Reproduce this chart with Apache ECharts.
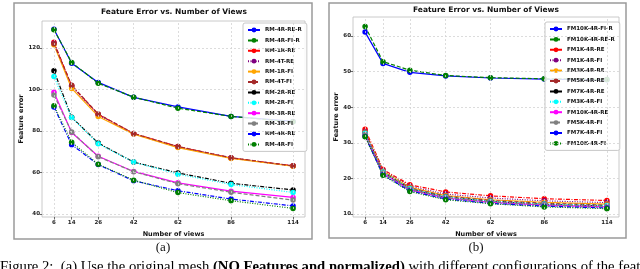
<!DOCTYPE html>
<html>
<head>
<meta charset="utf-8">
<script src="https://cdn.jsdelivr.net/npm/echarts@6/dist/echarts.min.js"></script>
<style>html,body{margin:0;padding:0;background:#fff;overflow:hidden;}#c{width:640px;height:269px;}</style>
</head>
<body>
<div id="c"></div>
<script>
// ---- data ----
const views = [6, 14, 26, 42, 62, 86, 114];
const yTicksA = [40, 60, 80, 100, 120];
const yTicksB = [10, 20, 30, 40, 50, 60];

const namesA = ['RM-4R-RE-R','RM-4R-FI-R','RM-1R-RE','RM-4T-RE','RM-1R-FI','RM-4T-FI','RM-2R-RE','RM-2R-FI','RM-3R-RE','RM-3R-FI','RM-4R-RE','RM-4R-FI'];
const rm4rReR = [129.0, 112.6, 103.4, 96.2, 91.6, 87.0, 84.6];
const rm4rFiR = [128.8, 113.0, 103.0, 96.3, 91.0, 87.0, 84.4];
const rm1rRe  = [122.8, 101.8, 88.0, 78.8, 72.5, 67.0, 63.2];
const rm4tRe  = [122.3, 101.5, 87.8, 78.6, 72.3, 67.0, 63.1];
const rm1rFi  = [121.5, 100.5, 87.0, 78.5, 72.0, 66.8, 63.0];
const rm4tFi  = [122.0, 102.0, 88.2, 78.8, 72.5, 67.1, 63.2];
const rm2rRe  = [109.0, 86.6, 74.2, 65.0, 59.8, 54.8, 51.6];
const rm2rFi  = [106.2, 86.5, 73.8, 65.0, 59.2, 54.2, 50.4];
const rm3rRe  = [98.7, 79.3, 67.8, 60.5, 55.0, 51.0, 48.0];
const rm3rFi  = [97.3, 79.5, 67.6, 60.4, 54.6, 50.5, 46.7];
const rm4rRe  = [91.6, 73.4, 63.8, 56.0, 51.2, 47.2, 43.9];
const rm4rFi  = [92.2, 74.6, 64.0, 56.3, 50.3, 46.4, 42.7];
const valuesA = [rm4rReR, rm4rFiR, rm1rRe, rm4tRe, rm1rFi, rm4tFi, rm2rRe, rm2rFi, rm3rRe, rm3rFi, rm4rRe, rm4rFi];

const namesB = ['FM10K-4R-FI-R','FM10K-4R-RE-R','FM1K-4R-RE','FM1K-4R-FI','FM3K-4R-RE','FM5K-4R-RE','FM7K-4R-RE','FM3K-4R-FI','FM10K-4R-RE','FM5K-4R-FI','FM7K-4R-FI','FM10K-4R-FI'];
const fm10kFiR = [61.1, 52.3, 49.8, 48.8, 48.2, 47.9, 47.7];
const fm10kReR = [62.7, 52.8, 50.4, 48.9, 48.3, 48.0, 47.8];
const fm1kRe   = [33.8, 22.5, 18.2, 16.2, 15.1, 14.3, 13.8];
const fm1kFi   = [33.2, 22.2, 17.8, 15.6, 14.5, 13.7, 13.2];
const fm3kRe   = [33.0, 22.0, 17.5, 15.2, 14.0, 13.3, 12.8];
const fm5kRe   = [32.8, 21.8, 17.3, 15.0, 13.8, 13.0, 12.5];
const fm7kRe   = [32.5, 21.6, 17.0, 14.7, 13.5, 12.7, 12.2];
const fm3kFi   = [32.7, 21.8, 17.2, 14.8, 13.6, 12.8, 12.4];
const fm10kRe  = [32.2, 21.4, 16.8, 14.5, 13.3, 12.5, 12.0];
const fm5kFi   = [32.3, 21.5, 16.9, 14.6, 13.4, 12.6, 12.1];
const fm7kFi   = [31.8, 21.0, 16.5, 14.2, 13.0, 12.2, 11.7];
const fm10kFi  = [31.7, 20.9, 16.3, 14.0, 12.9, 12.0, 11.5];
const valuesB = [fm10kFiR, fm10kReR, fm1kRe, fm1kFi, fm3kRe, fm5kRe, fm7kRe, fm3kFi, fm10kRe, fm5kFi, fm7kFi, fm10kFi];

// ---- styles ----
const colors = ['#0000ff','#008000','#ff0000','#800080','#ffa500','#a52a2a','#000000','#00ffff','#ff00ff','#808080','#0000ff','#008000'];
const dashes = ['solid', [4,2], [4,1.5,1,1.5], [1,1.5]];
const FONT = 'DejaVu Sans';

const chart = echarts.init(document.getElementById('c'), null, {renderer: 'canvas'});

function makeSeries(names, values, idx) {
  return names.map((n, i) => ({
    name: n,
    type: 'line',
    xAxisIndex: idx, yAxisIndex: idx,
    data: views.map((v, j) => [v, values[i][j]]),
    symbol: 'circle',
    symbolSize: 5.5,
    showSymbol: true,
    itemStyle: {color: colors[i]},
    lineStyle: {color: colors[i], width: 1.2, type: dashes[i % 4]},
    animation: false,
    z: 3
  }));
}

function gridSeries(idx, yt) {
  return {
    type: 'line', xAxisIndex: idx, yAxisIndex: idx, data: [], silent: true, animation: false, z: 1,
    markLine: {
      silent: true, symbol: 'none', animation: false, label: {show: false},
      lineStyle: {color: '#d4d4d4', type: [2, 2], width: 0.8},
      data: views.map(v => ({xAxis: v})).concat(yt.map(v => ({yAxis: v})))
    }
  };
}

function xAxisCfg(idx, nameGap) {
  return {
    type: 'value', gridIndex: idx, min: 0.6, max: 119.4,
    name: 'Number of views', nameLocation: 'middle', nameGap: nameGap,
    nameTextStyle: {fontFamily: FONT, fontWeight: 'bold', fontSize: 6.5, color: '#111'},
    splitLine: {show: false},
    axisLine: {show: false},
    axisTick: {show: true, customValues: views, length: 2.5, lineStyle: {color: '#444', width: 0.8}},
    axisLabel: {customValues: views, fontFamily: FONT, fontWeight: 'bold', fontSize: 5.5, color: '#222', margin: 3}
  };
}
function yAxisCfg(idx, mn, mx, yt, nameGap) {
  return {
    type: 'value', gridIndex: idx, min: mn, max: mx,
    name: 'Feature error', nameLocation: 'middle', nameGap: nameGap,
    nameTextStyle: {fontFamily: FONT, fontWeight: 'bold', fontSize: 6.5, color: '#111'},
    splitLine: {show: false},
    axisLine: {show: false},
    axisTick: {show: true, customValues: yt, length: 2.5, lineStyle: {color: '#444', width: 0.8}},
    axisLabel: {customValues: yt, fontFamily: FONT, fontWeight: 'bold', fontSize: 5.5, color: '#222', margin: 2}
  };
}
function legendCfg(names, left, top) {
  return {
    data: names, orient: 'vertical', left: left, top: top,
    itemWidth: 12, itemHeight: 6, itemGap: 4.4,
    padding: [4, 5, 4, 4],
    backgroundColor: 'rgba(255,255,255,0.85)',
    borderColor: '#c8c8c8', borderWidth: 1, borderRadius: 2,
    textStyle: {fontFamily: FONT, fontWeight: 'bold', fontSize: 5.5, color: '#111', padding: [0, 0, 0, 0]},
    selectedMode: false
  };
}

const option = {
  backgroundColor: '#ffffff',
  animation: false,
  grid: [
    {left: 42, top: 21, width: 263, height: 196, show: true, borderColor: '#bdbdbd', borderWidth: 0.8, backgroundColor: 'transparent'},
    {left: 353, top: 17, width: 266, height: 200, show: true, borderColor: '#bdbdbd', borderWidth: 0.8, backgroundColor: 'transparent'}
  ],
  xAxis: [xAxisCfg(0, 12), xAxisCfg(1, 12)],
  yAxis: [yAxisCfg(0, 38.55, 133.0, yTicksA, 15), yAxisCfg(1, 9.16, 65.34, yTicksB, 10)],
  legend: [legendCfg(namesA, 243, 23), legendCfg(namesB, 545, 22)],
  series: [gridSeries(0, yTicksA), gridSeries(1, yTicksB)]
    .concat(makeSeries(namesA, valuesA, 0))
    .concat(makeSeries(namesB, valuesB, 1)),
  graphic: [
    {type: 'rect', shape: {x: 14, y: 3, width: 298, height: 236}, style: {fill: 'none', stroke: '#9a9a9a', lineWidth: 1.5}, silent: true},
    {type: 'rect', shape: {x: 329, y: 3, width: 297, height: 235}, style: {fill: 'none', stroke: '#9a9a9a', lineWidth: 1.5}, silent: true},
    {type: 'text', x: 174, y: 12, style: {text: 'Feature Error vs. Number of Views', textAlign: 'center', textVerticalAlign: 'middle', font: 'bold 7.5px "DejaVu Sans"', fill: '#111'}, silent: true},
    {type: 'text', x: 486, y: 10, style: {text: 'Feature Error vs. Number of Views', textAlign: 'center', textVerticalAlign: 'middle', font: 'bold 7.5px "DejaVu Sans"', fill: '#111'}, silent: true},
    {type: 'text', x: 163, y: 248, style: {text: '(a)', textAlign: 'center', textVerticalAlign: 'middle', font: '13px "Liberation Serif"', fill: '#111'}, silent: true},
    {type: 'text', x: 476, y: 248, style: {text: '(b)', textAlign: 'center', textVerticalAlign: 'middle', font: '13px "Liberation Serif"', fill: '#111'}, silent: true},
    {type: 'text', x: 0, y: 260, style: {
      text: '{n|Figure 2:  (a) Use the original mesh }{b|(NO Features and normalized)}{n| with different configurations of the feat}',
      textAlign: 'left', textVerticalAlign: 'top',
      rich: {
        n: {fontFamily: 'Liberation Serif', fontSize: 14.7, color: '#111'},
        b: {fontFamily: 'Liberation Serif', fontSize: 14.7, fontWeight: 'bold', color: '#111'}
      }
    }, silent: true}
  ]
};
chart.setOption(option);
</script>
</body>
</html>
